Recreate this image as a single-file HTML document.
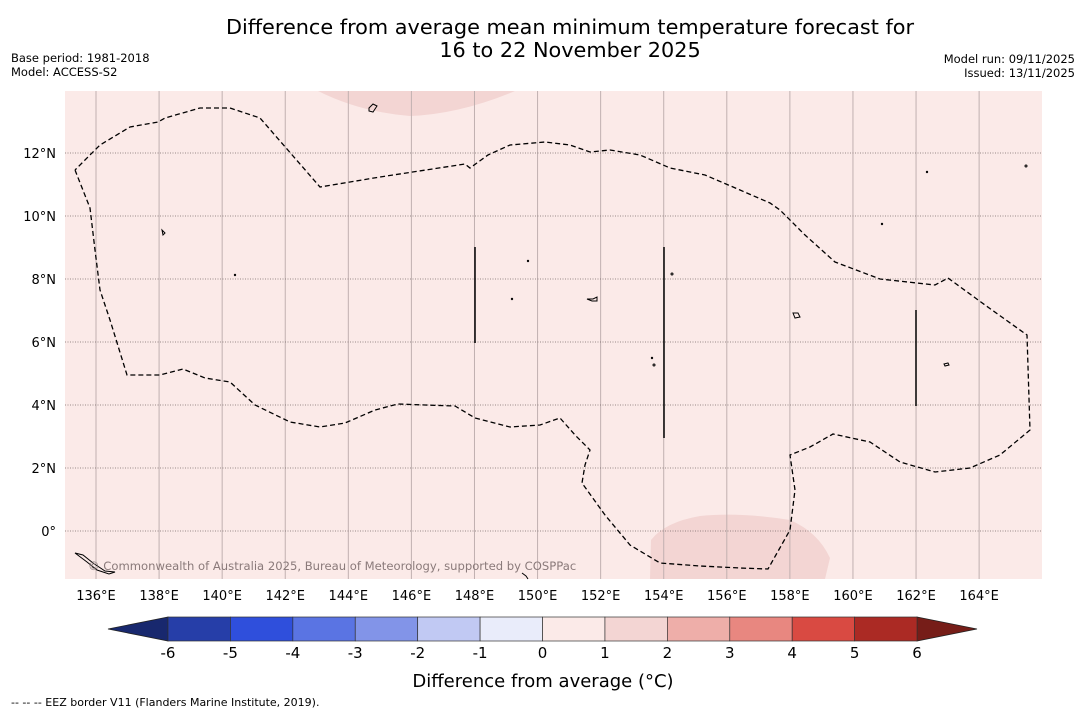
<!DOCTYPE html>
<html><head><meta charset="utf-8"><style>
body{margin:0;background:#fff;font-family:"Liberation Sans","DejaVu Sans",sans-serif;}
svg text{font-family:"DejaVu Sans","Liberation Sans",sans-serif;}
</style></head><body>
<svg width="1085" height="713" xmlns="http://www.w3.org/2000/svg">
<rect width="1085" height="713" fill="#fff"/>
<text x="570" y="34" font-size="20.8" text-anchor="middle">Difference from average mean minimum temperature forecast for</text>
<text x="570" y="57" font-size="20.8" text-anchor="middle">16 to 22 November 2025</text>
<text x="11" y="62" font-size="11.5">Base period: 1981-2018</text>
<text x="11" y="76" font-size="11.5">Model: ACCESS-S2</text>
<text x="1075" y="63" font-size="11.5" text-anchor="end">Model run: 09/11/2025</text>
<text x="1075" y="77" font-size="11.5" text-anchor="end">Issued: 13/11/2025</text>
<g id="map">
<rect x="65" y="91" width="977" height="488" fill="#fbeae8"/>
<path d="M318,91 Q360,112 410,116 Q460,114 515,91 Z" fill="#f3d5d3"/>
<path d="M650,579 L651,540 Q665,522 700,516 Q740,512 790,520 Q818,532 830,558 L825,579 Z" fill="#f3d5d3"/>
<g id="grid"></g>
<path id="eez" fill="none" stroke="#000" stroke-width="1.3" stroke-dasharray="5,3"/>
<line x1="475" y1="247" x2="475" y2="343" stroke="#000" stroke-width="1.5"/>
<line x1="664" y1="247" x2="664" y2="438" stroke="#000" stroke-width="1.5"/>
<line x1="916" y1="310" x2="916" y2="406" stroke="#000" stroke-width="1.5"/>
<g fill="none" stroke="#000" stroke-width="1">
<path d="M369,108 l4,-4 l4,2 l-4,6 l-4,-1 Z"/>
<path d="M162,230 l3,3 l-2,2 Z"/>
<path d="M587,299 l6,0 l4,-2 l0,4 l-5,0 Z"/>
<path d="M793,313 l5,0 l2,4 l-5,1 Z"/>
<path d="M944,364 l4,-1 l1,2 l-4,1 Z"/>
<path d="M75,553 l8,2 l10,8 l12,8 l10,1 l-6,2 l-12,-4 l-10,-8 Z"/>
<circle cx="672" cy="274" r="1"/><circle cx="528" cy="261" r="0.7"/><circle cx="512" cy="299" r="0.7"/>
<circle cx="652" cy="358" r="0.7"/><circle cx="654" cy="365" r="1"/><circle cx="1026" cy="166" r="1"/>
<circle cx="927" cy="172" r="0.7"/><circle cx="882" cy="224" r="0.7"/><circle cx="235" cy="275" r="0.7"/>
<path d="M522,573 l4,3 l2,3"/>
</g>
<text x="88" y="570" font-size="11.6" fill="#8a7a7a">© Commonwealth of Australia 2025, Bureau of Meteorology, supported by COSPPac</text>
</g>
<g id="axes"></g>
<g id="cbar"></g>
<text x="543" y="687" font-size="18" text-anchor="middle">Difference from average (°C)</text>
<text x="11" y="706" font-size="11">--  --  -- EEZ border V11 (Flanders Marine Institute, 2019).</text>
</svg>
<script>
const lonTicks=[136,138,140,142,144,146,148,150,152,154,156,158,160,162,164];
const latTicks=[0,2,4,6,8,10,12];
const cbarLevels=[-6,-5,-4,-3,-2,-1,0,1,2,3,4,5,6];
const cbarColors=["#263ea8","#2f4fdc","#5a74e3","#8294e8","#c1c9f3","#e9ecfa","#fbeae8","#f3d5d3","#eeaea9","#e88780","#d94a42","#ab2a24"];
const NS="http://www.w3.org/2000/svg";
const xOf=lon=>96+(lon-136)*31.54;
const yOf=lat=>531-lat*31.5;
function mk(t,a,p){const e=document.createElementNS(NS,t);for(const k in a)e.setAttribute(k,a[k]);p.appendChild(e);return e;}
const grid=document.getElementById('grid'),axes=document.getElementById('axes');
lonTicks.forEach(l=>{const x=xOf(l);
 const g=mk('line',{x1:x,y1:91,x2:x,y2:579,stroke:'#c0b0b0','stroke-width':1},grid);
 
 
 const t=mk('text',{x:x,y:600,'font-size':13,'text-anchor':'middle'},axes);t.textContent=l+'°E';
 
 });
latTicks.forEach(l=>{const y=yOf(l);
 const g=mk('line',{x1:65,y1:y,x2:1042,y2:y,stroke:'#7a6a6a','stroke-width':0.8,'stroke-dasharray':'1,1.5'},grid);
 
 
 const t=mk('text',{x:56,y:y+5,'font-size':13,'text-anchor':'end'},axes);t.textContent=l===0?'0°':l+'°N';
 
 });
const pts=[[75,170],[90,208],[95,250],[100,290],[110,320],[127,375],[160,375],[183,369],[205,378],[230,382],[255,405],[290,422],[320,427],[345,423],[375,410],[398,404],[425,405],[455,406],[475,418],[510,427],[540,425],[560,418],[575,435],[590,450],[585,465],[582,483],[605,515],[630,545],[660,563],[700,566],[740,568],[768,569],[790,530],[795,490],[790,455],[810,447],[833,434],[870,442],[900,462],[935,472],[970,468],[1000,455],[1030,430],[1027,335],[985,305],[948,278],[935,285],[880,279],[835,262],[805,235],[780,210],[770,203],[740,190],[705,175],[670,168],[640,155],[610,150],[590,152],[570,145],[545,142],[510,145],[488,155],[470,168],[465,164],[380,177],[320,187],[260,118],[230,108],[200,108],[165,118],[158,122],[130,127],[100,145],[75,170]];
document.getElementById('eez').setAttribute('d','M'+pts.map(p=>p.join(',')).join(' L'));
const cb=document.getElementById('cbar');const cx=v=>168+(v+6)*62.42;
const lt=mk('path',{d:`M168,617 L108,629 L168,641 Z`,fill:'#18286e',stroke:'#222','stroke-width':0.8},cb);


const rt=mk('path',{d:`M917,617 L977,629 L917,641 Z`,fill:'#761d18',stroke:'#222','stroke-width':0.8},cb);


cbarColors.forEach((c,i)=>{const r=mk('rect',{x:cx(cbarLevels[i]),y:617,width:cx(cbarLevels[i+1])-cx(cbarLevels[i]),height:24,fill:c,stroke:'#333','stroke-width':0.7},cb);
 
 });
cbarLevels.forEach(v=>{const t=mk('text',{x:cx(v),y:658,'font-size':15,'text-anchor':'middle'},cb);t.textContent=v;
 
 });
</script>
</body></html>
